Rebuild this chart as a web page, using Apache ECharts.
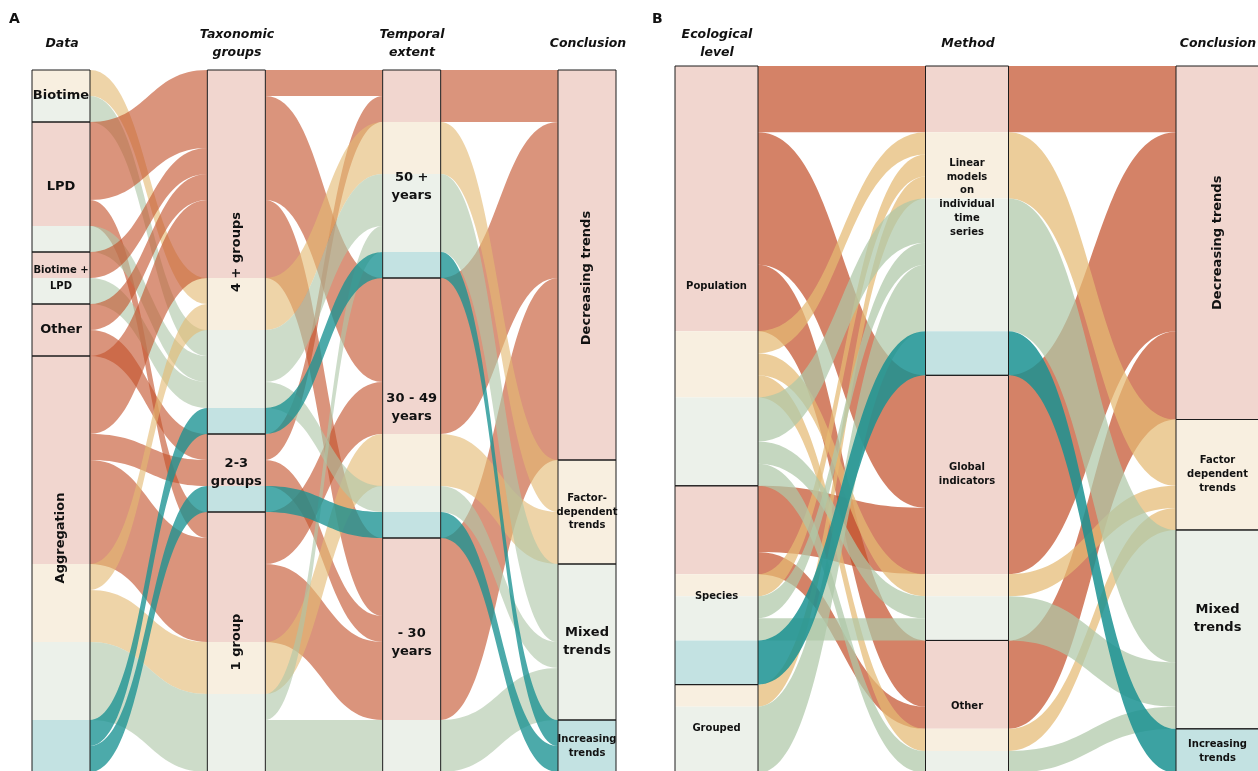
<!DOCTYPE html>
<html>
<head>
<meta charset="utf-8">
<script src="https://cdn.jsdelivr.net/npm/echarts@6/dist/echarts.min.js"></script>
<style>
  html, body { margin: 0; padding: 0; background: #fff; }
  #chart { width: 1258px; height: 771px; }
</style>
</head>
<body>
<div id="chart"></div>
<script>
// conclusion codes: D decreasing, F factor dependent, M mixed, I increasing
const conclusionCodes = ["D", "F", "M", "I"];

// panel A axes
const dataSources = ["Biotime", "LPD", "Biotime + LPD", "Other", "Aggregation"];
const taxonomicGroups = ["4 + groups", "2-3 groups", "1 group"];
const temporalExtents = ["50 + years", "30 - 49 years", "- 30 years"];
const conclusionsA = ["Decreasing trends", "Factor-dependent trends", "Mixed trends", "Increasing trends"];

// [from, to, conclusion, number of studies]
const dataToTaxa = [
  ["Biotime", "4 + groups", "F", 1],
  ["Biotime", "4 + groups", "M", 1],
  ["LPD", "4 + groups", "D", 3],
  ["LPD", "1 group", "D", 1],
  ["LPD", "4 + groups", "M", 1],
  ["Biotime + LPD", "4 + groups", "D", 1],
  ["Biotime + LPD", "4 + groups", "M", 1],
  ["Other", "4 + groups", "D", 1],
  ["Other", "2-3 groups", "D", 1],
  ["Aggregation", "4 + groups", "D", 3],
  ["Aggregation", "2-3 groups", "D", 1],
  ["Aggregation", "1 group", "D", 4],
  ["Aggregation", "4 + groups", "F", 1],
  ["Aggregation", "1 group", "F", 2],
  ["Aggregation", "1 group", "M", 3],
  ["Aggregation", "4 + groups", "I", 1],
  ["Aggregation", "2-3 groups", "I", 1],
];

const taxaToTime = [
  ["4 + groups", "50 + years", "D", 1],
  ["4 + groups", "30 - 49 years", "D", 4],
  ["4 + groups", "- 30 years", "D", 3],
  ["2-3 groups", "50 + years", "D", 1],
  ["2-3 groups", "- 30 years", "D", 1],
  ["1 group", "30 - 49 years", "D", 2],
  ["1 group", "- 30 years", "D", 3],
  ["4 + groups", "50 + years", "F", 2],
  ["1 group", "30 - 49 years", "F", 2],
  ["4 + groups", "50 + years", "M", 2],
  ["4 + groups", "30 - 49 years", "M", 1],
  ["1 group", "50 + years", "M", 1],
  ["1 group", "- 30 years", "M", 2],
  ["4 + groups", "50 + years", "I", 1],
  ["2-3 groups", "30 - 49 years", "I", 1],
];

const timeToConclusion = [
  ["50 + years", "Decreasing trends", "D", 2],
  ["30 - 49 years", "Decreasing trends", "D", 6],
  ["- 30 years", "Decreasing trends", "D", 7],
  ["50 + years", "Factor-dependent trends", "F", 2],
  ["30 - 49 years", "Factor-dependent trends", "F", 2],
  ["50 + years", "Mixed trends", "M", 3],
  ["30 - 49 years", "Mixed trends", "M", 1],
  ["- 30 years", "Mixed trends", "M", 2],
  ["50 + years", "Increasing trends", "I", 1],
  ["30 - 49 years", "Increasing trends", "I", 1],
];

// panel B axes
const ecologicalLevels = ["Population", "Species", "Grouped"];
const methods = ["Linear models on individual time series", "Global indicators", "Other"];
const conclusionsB = ["Decreasing trends", "Factor dependent trends", "Mixed trends", "Increasing trends"];

const levelToMethod = [
  ["Population", "Linear models on individual time series", "D", 3],
  ["Population", "Global indicators", "D", 6],
  ["Population", "Other", "D", 3],
  ["Species", "Global indicators", "D", 3],
  ["Species", "Other", "D", 1],
  ["Population", "Linear models on individual time series", "F", 1],
  ["Population", "Global indicators", "F", 1],
  ["Population", "Other", "F", 1],
  ["Species", "Linear models on individual time series", "F", 1],
  ["Grouped", "Linear models on individual time series", "F", 1],
  ["Population", "Linear models on individual time series", "M", 2],
  ["Population", "Global indicators", "M", 1],
  ["Population", "Other", "M", 1],
  ["Species", "Linear models on individual time series", "M", 1],
  ["Species", "Global indicators", "M", 1],
  ["Grouped", "Linear models on individual time series", "M", 3],
  ["Species", "Linear models on individual time series", "I", 2],
];

const methodToConclusion = [
  ["Linear models on individual time series", "Decreasing trends", "D", 3],
  ["Global indicators", "Decreasing trends", "D", 9],
  ["Other", "Decreasing trends", "D", 4],
  ["Linear models on individual time series", "Factor dependent trends", "F", 3],
  ["Global indicators", "Factor dependent trends", "F", 1],
  ["Other", "Factor dependent trends", "F", 1],
  ["Linear models on individual time series", "Mixed trends", "M", 6],
  ["Global indicators", "Mixed trends", "M", 2],
  ["Other", "Mixed trends", "M", 1],
  ["Linear models on individual time series", "Increasing trends", "I", 2],
];

// styling
const flowColours = { D: "#c4522c", F: "#e4ba73", M: "#aec7a8", I: "#1a9292" };
const nodeFills = { D: "#f1d6cf", F: "#f8efe0", M: "#ecf1ea", I: "#c3e2e2" };
const fontFamily = "DejaVu Sans";

const labelsA = {
  "Biotime": { size: 13 },
  "LPD": { size: 13 },
  "Biotime + LPD": { text: "Biotime +\nLPD", size: 10, lh: 16 },
  "Other": { size: 13 },
  "Aggregation": { size: 13, rotate: 90, dy: -26 },
  "4 + groups": { size: 13, rotate: 90 },
  "2-3 groups": { text: "2-3\ngroups", size: 13, lh: 18 },
  "1 group": { size: 13, rotate: 90 },
  "50 + years": { text: "50 +\nyears", size: 13, lh: 18, dy: 13 },
  "30 - 49 years": { text: "30 - 49\nyears", size: 13, lh: 18 },
  "- 30 years": { text: "- 30\nyears", size: 13, lh: 18, dy: -12 },
  "Decreasing trends": { size: 13, rotate: 90, dy: 13 },
  "Factor-dependent trends": { text: "Factor-\ndependent\ntrends", size: 10, lh: 13.5 },
  "Mixed trends": { text: "Mixed\ntrends", size: 13, lh: 18 },
  "Increasing trends": { text: "Increasing\ntrends", size: 10, lh: 14 },
};

const labelsB = {
  "Population": { size: 10, dy: 11 },
  "Species": { size: 10, dy: 11 },
  "Grouped": { size: 10 },
  "Linear models on individual time series": {
    text: "Linear\nmodels\non\nindividual\ntime\nseries", size: 10, lh: 13.8, dy: -23,
  },
  "Global indicators": { text: "Global\nindicators", size: 10, lh: 14, dy: -33 },
  "Other": { size: 10 },
  "Decreasing trends": { size: 13, rotate: 90 },
  "Factor dependent trends": { text: "Factor\ndependent\ntrends", size: 10, lh: 14 },
  "Mixed trends": { text: "Mixed\ntrends", size: 13, lh: 18, dy: -11 },
  "Increasing trends": { text: "Increasing\ntrends", size: 10, lh: 14 },
};

function buildPanel(axes, gaps, labels, box, opacity) {
  const present = axes.map(() => new Set());
  const subLinks = [];
  const strataLinks = {};
  gaps.forEach((flows, k) => {
    flows.forEach(([from, to, code, n]) => {
      present[k].add(from + "|" + code);
      present[k + 1].add(to + "|" + code);
      subLinks.push({
        source: k + "|" + from + "|" + code,
        target: (k + 1) + "|" + to + "|" + code,
        value: n,
        lineStyle: { color: flowColours[code], opacity: code === "I" ? opacity.teal : opacity.base },
      });
      const key = k + "#" + from + ">>" + (k + 1) + "#" + to;
      strataLinks[key] = (strataLinks[key] || 0) + n;
    });
  });

  const subNodes = [];
  const strataNodes = [];
  axes.forEach((strata, k) => {
    strata.forEach((s) => {
      conclusionCodes.forEach((code) => {
        if (present[k].has(s + "|" + code)) {
          subNodes.push({
            name: k + "|" + s + "|" + code,
            itemStyle: { color: nodeFills[code], borderWidth: 0 },
          });
        }
      });
      const l = labels[s] || {};
      const dy = l.dy || 0;
      strataNodes.push({
        name: k + "#" + s,
        label: {
          formatter: l.text || s,
          fontSize: l.size || 12,
          lineHeight: l.lh || (l.size || 12) + 4,
          rotate: l.rotate || 0,
          // offset is applied in the rotated frame of the label
          offset: l.rotate ? [-dy, 0] : [0, dy],
        },
      });
    });
  });

  const outlineLinks = Object.keys(strataLinks).map((key) => {
    const [a, b] = key.split(">>");
    return { source: a, target: b, value: strataLinks[key] };
  });

  const common = {
    type: "sankey",
    left: box.left,
    top: box.top,
    width: box.width,
    height: box.height,
    nodeWidth: box.nodeWidth,
    nodeGap: 0,
    layoutIterations: 0,
    nodeAlign: "justify",
    draggable: false,
    silent: true,
    animation: false,
    emphasis: { disabled: true },
  };

  return [
    {
      ...common,
      data: subNodes,
      links: subLinks,
      label: { show: false },
      lineStyle: { curveness: 0.5 },
    },
    {
      ...common,
      data: strataNodes,
      links: outlineLinks,
      itemStyle: { color: "rgba(0,0,0,0)", borderColor: "#1c1c1c", borderWidth: 1 },
      lineStyle: { opacity: 0 },
      label: {
        show: true,
        position: "inside",
        fontFamily: fontFamily,
        fontWeight: "bold",
        color: "#111",
        align: "center",
      },
    },
  ];
}

const seriesA = buildPanel(
  [dataSources, taxonomicGroups, temporalExtents, conclusionsA],
  [dataToTaxa, taxaToTime, timeToConclusion],
  labelsA,
  { left: 32, top: 70, width: 584, height: 702, nodeWidth: 58 },
  { base: 0.62, teal: 0.78 }
);

const seriesB = buildPanel(
  [ecologicalLevels, methods, conclusionsB],
  [levelToMethod, methodToConclusion],
  labelsB,
  { left: 675, top: 66, width: 584, height: 707, nodeWidth: 83 },
  { base: 0.72, teal: 0.85 }
);

const axisTitle = (text, x, y) => ({
  text: text,
  left: x,
  top: y,
  padding: 0,
  textAlign: "center",
  textStyle: {
    fontFamily: fontFamily,
    fontSize: 12.5,
    fontWeight: "bold",
    fontStyle: "italic",
    lineHeight: 18,
    color: "#111",
  },
});

const panelLetter = (text, x) => ({
  text: text,
  left: x,
  top: 10,
  padding: 0,
  textStyle: { fontFamily: fontFamily, fontSize: 14, fontWeight: "bold", color: "#111", lineHeight: 18 },
});

const chart = echarts.init(document.getElementById("chart"));
chart.setOption({
  animation: false,
  backgroundColor: "#fff",
  title: [
    panelLetter("A", 9),
    axisTitle("Data", 62, 35),
    axisTitle("Taxonomic\ngroups", 237, 26),
    axisTitle("Temporal\nextent", 412, 26),
    axisTitle("Conclusion", 588, 35),
    panelLetter("B", 652),
    axisTitle("Ecological\nlevel", 717, 26),
    axisTitle("Method", 968, 35),
    axisTitle("Conclusion", 1218, 35),
  ],
  series: [...seriesA, ...seriesB],
});
</script>
</body>
</html>
